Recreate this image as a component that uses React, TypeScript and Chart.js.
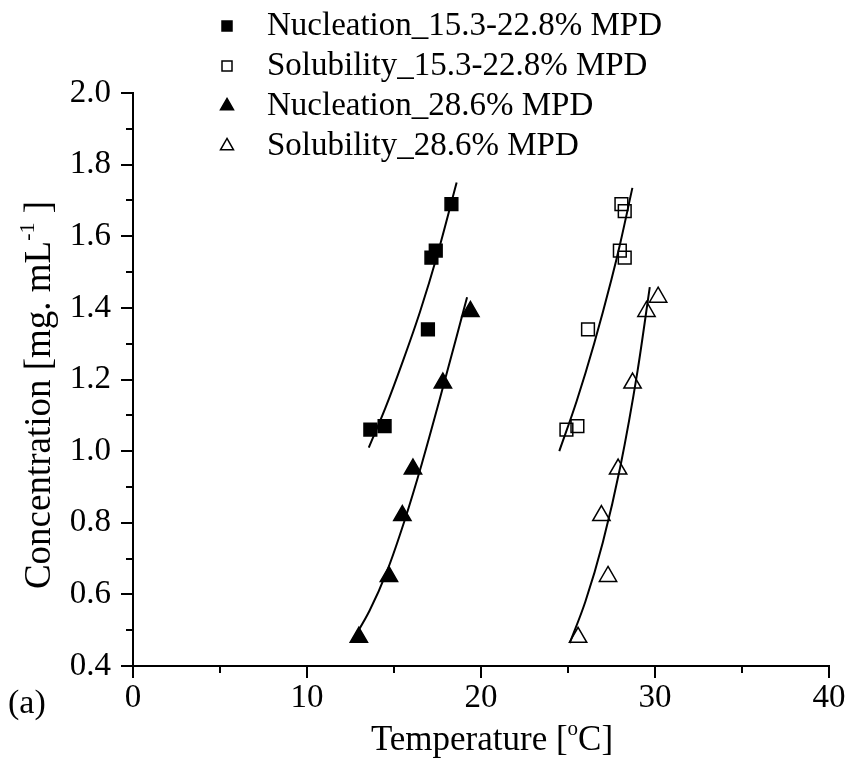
import React, { useEffect, useRef } from "react";
import { Chart, registerables } from "chart.js";
Chart.register(...registerables);

// ---- data ----
const nuc1X = [18.3, 17.4, 17.15, 16.95, 14.46, 13.64];
const nuc1Y = [1.69, 1.56, 1.54, 1.34, 1.07, 1.06];
const sol1X = [28.07, 28.26, 27.98, 28.26, 26.15, 25.54, 24.91];
const sol1Y = [1.69, 1.67, 1.56, 1.54, 1.34, 1.07, 1.06];
const nuc2X = [19.39, 17.81, 16.09, 15.48, 14.71, 12.98];
const nuc2Y = [1.39, 1.19, 0.95, 0.82, 0.65, 0.48];
const sol2X = [30.18, 29.51, 28.71, 27.88, 26.92, 27.3, 25.58];
const sol2Y = [1.43, 1.39, 1.19, 0.95, 0.82, 0.65, 0.48];

// fitted curves
const fitNuc1X = [13.55, 14.5, 15.5, 16.5, 17.5, 18.6];
const fitNuc1Y = [1.01, 1.12, 1.25, 1.39, 1.55, 1.75];
const fitSol1X = [24.5, 25.5, 26.5, 27.5, 28.0, 28.7];
const fitSol1Y = [1.0, 1.14, 1.3, 1.48, 1.58, 1.735];
const fitNuc2X = [12.6, 13.6, 14.6, 15.6, 16.6, 17.6, 18.6, 19.2];
const fitNuc2Y = [0.47, 0.555, 0.665, 0.805, 0.965, 1.14, 1.32, 1.43];
const fitSol2X = [25.1, 26.0, 27.0, 28.0, 29.0, 29.7];
const fitSol2Y = [0.464, 0.58, 0.745, 0.955, 1.225, 1.458];

const legendLabels = [
  "Nucleation_15.3-22.8% MPD",
  "Solubility_15.3-22.8% MPD",
  "Nucleation_28.6% MPD",
  "Solubility_28.6% MPD",
];
const xTitleParts = [{ t: "Temperature [" }, { t: "o", sup: true }, { t: "C]" }];
const yTitleParts = [{ t: "Concentration [mg. mL" }, { t: "-1", sup: true }, { t: " ]" }];
const panelLabel = "(a)";

const xMin = 0, xMax = 40, xStep = 10;
const yMin = 0.4, yMax = 2.0, yStep = 0.2;
const xMinorTicks = [5, 15, 25, 35];
const yMinorTicks = [0.5, 0.7, 0.9, 1.1, 1.3, 1.5, 1.7, 1.9];

const FONT = "'Liberation Serif', 'Times New Roman', serif";

const pts = (xs: number[], ys: number[]) => xs.map((x, i) => ({ x, y: ys[i] }));

function drawRich(ctx: CanvasRenderingContext2D, parts: { t: string; sup?: boolean }[], cx: number, cy: number, size: number) {
  const supSize = Math.round(size * 0.6);
  let total = 0;
  const widths = parts.map((p) => {
    ctx.font = `${p.sup ? supSize : size}px ${FONT}`;
    const w = ctx.measureText(p.t).width;
    total += w;
    return w;
  });
  let x = cx - total / 2;
  ctx.textAlign = "left";
  ctx.textBaseline = "alphabetic";
  parts.forEach((p, i) => {
    ctx.font = `${p.sup ? supSize : size}px ${FONT}`;
    ctx.fillText(p.t, x, p.sup ? cy - size * 0.42 : cy);
    x += widths[i];
  });
}

function drawMarker(ctx: CanvasRenderingContext2D, style: string, filled: boolean, x: number, y: number, s: number) {
  ctx.beginPath();
  if (style === "rect") {
    ctx.rect(x - s / 2, y - s / 2, s, s);
  } else {
    const r = s / Math.sqrt(3);
    ctx.moveTo(x, y - r);
    ctx.lineTo(x + s / 2, y + r / 2);
    ctx.lineTo(x - s / 2, y + r / 2);
    ctx.closePath();
  }
  if (filled) ctx.fill();
  ctx.stroke();
}

const decorPlugin = {
  id: "decor",
  afterDraw(chart: any) {
    const ctx: CanvasRenderingContext2D = chart.ctx;
    const xs = chart.scales.x;
    const ys = chart.scales.y;
    const { left, bottom } = chart.chartArea;
    ctx.save();
    ctx.strokeStyle = "#000";
    ctx.fillStyle = "#000";
    ctx.lineWidth = 2;
    // minor ticks
    xMinorTicks.forEach((v) => {
      const p = Math.round(xs.getPixelForValue(v));
      ctx.beginPath();
      ctx.moveTo(p, bottom);
      ctx.lineTo(p, bottom + 7);
      ctx.stroke();
    });
    yMinorTicks.forEach((v) => {
      const p = Math.round(ys.getPixelForValue(v));
      ctx.beginPath();
      ctx.moveTo(left, p);
      ctx.lineTo(left - 7, p);
      ctx.stroke();
    });
    // legend
    const rows = [26, 66, 106, 146];
    const styles = [
      { s: "rect", f: true, size: 10 },
      { s: "rect", f: false, size: 10 },
      { s: "triangle", f: true, size: 13 },
      { s: "triangle", f: false, size: 13 },
    ];
    legendLabels.forEach((lab, i) => {
      ctx.lineWidth = 1.5;
      drawMarker(ctx, styles[i].s, styles[i].f, 227, rows[i], styles[i].size);
      ctx.font = `33px ${FONT}`;
      ctx.textAlign = "left";
      ctx.textBaseline = "middle";
      ctx.fillText(lab, 267, rows[i]);
    });
    // axis titles
    drawRich(ctx, xTitleParts, 492, 750, 35);
    ctx.save();
    ctx.translate(50, 395);
    ctx.rotate(-Math.PI / 2);
    drawRich(ctx, yTitleParts, 0, 0, 37);
    ctx.restore();
    // panel label
    ctx.font = `34px ${FONT}`;
    ctx.textAlign = "left";
    ctx.textBaseline = "alphabetic";
    ctx.fillText(panelLabel, 8, 713);
    ctx.restore();
  },
};

export default function App() {
  const ref = useRef<HTMLCanvasElement | null>(null);
  useEffect(() => {
    document.body.style.margin = "0";
    const canvas = ref.current!;
    const pointDs = (data: any, style: string, filled: boolean, r: number) => ({
      type: "scatter",
      data,
      showLine: false,
      pointStyle: style,
      pointRadius: r,
      pointHoverRadius: r,
      pointBackgroundColor: filled ? "#000" : "rgba(0,0,0,0)",
      pointBorderColor: "#000",
      pointBorderWidth: 1.5,
    });
    const lineDs = (data: any) => ({
      type: "scatter",
      data,
      showLine: true,
      borderColor: "#000",
      borderWidth: 2,
      pointRadius: 0,
      cubicInterpolationMode: "monotone",
      fill: false,
    });
    const chart = new Chart(canvas, {
      type: "scatter",
      data: {
        datasets: [
          { label: legendLabels[0], ...pointDs(pts(nuc1X, nuc1Y), "rect", true, 9) },
          { label: legendLabels[1], ...pointDs(pts(sol1X, sol1Y), "rect", false, 9) },
          { label: legendLabels[2], ...pointDs(pts(nuc2X, nuc2Y), "triangle", true, 10) },
          { label: legendLabels[3], ...pointDs(pts(sol2X, sol2Y), "triangle", false, 10) },
          { label: "fit1", ...lineDs(pts(fitNuc1X, fitNuc1Y)) },
          { label: "fit2", ...lineDs(pts(fitSol1X, fitSol1Y)) },
          { label: "fit3", ...lineDs(pts(fitNuc2X, fitNuc2Y)) },
          { label: "fit4", ...lineDs(pts(fitSol2X, fitSol2Y)) },
        ] as any,
      },
      options: {
        animation: false,
        responsive: false,
        devicePixelRatio: 1,
        layout: { padding: { top: 93, right: 20, bottom: 0, left: 0 } },
        plugins: { legend: { display: false }, tooltip: { enabled: false } },
        scales: {
          x: {
            type: "linear",
            min: xMin,
            max: xMax,
            afterFit: (s: any) => { s.height = 92; },
            ticks: { stepSize: xStep, color: "#000", font: { family: FONT, size: 33 }, padding: 1, maxRotation: 0 },
            grid: { drawOnChartArea: false, tickLength: 12, color: "#000", lineWidth: 2 },
            border: { color: "#000", width: 2 },
          },
          y: {
            type: "linear",
            min: yMin,
            max: yMax,
            afterFit: (s: any) => { s.width = 133; },
            ticks: {
              stepSize: yStep,
              color: "#000",
              font: { family: FONT, size: 33 },
              padding: 10,
              callback: (v: any) => Number(v).toFixed(1),
            },
            grid: { drawOnChartArea: false, tickLength: 12, color: "#000", lineWidth: 2 },
            border: { color: "#000", width: 2 },
          },
        },
      },
      plugins: [decorPlugin],
    } as any);
    return () => chart.destroy();
  }, []);
  return (
    <div style={{ width: 849, height: 758, background: "#fff" }}>
      <canvas ref={ref} width={849} height={758} style={{ width: 849, height: 758, display: "block" }} />
    </div>
  );
}
